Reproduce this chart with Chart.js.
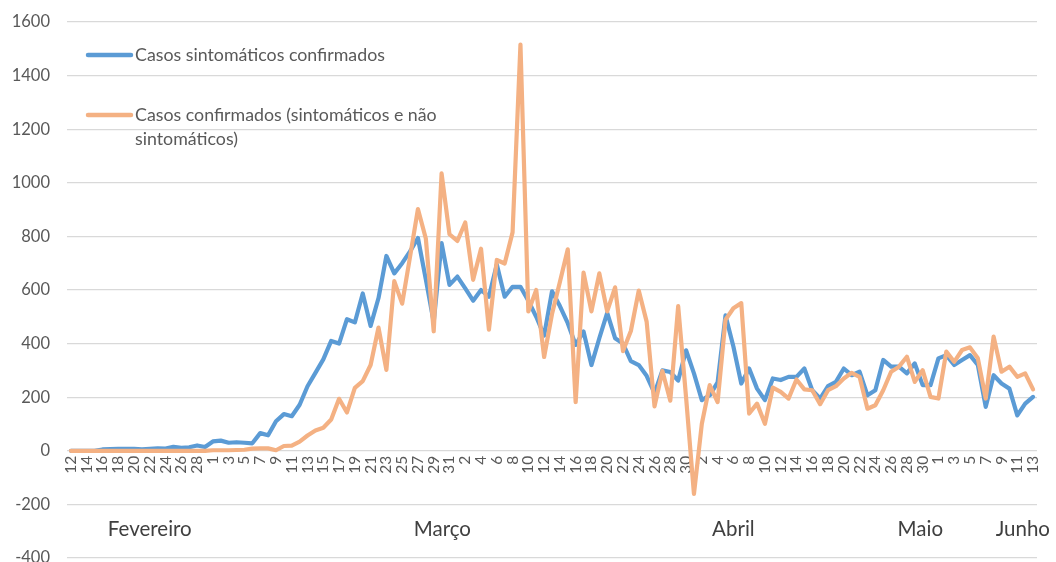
<!DOCTYPE html>
<html>
<head>
<meta charset="utf-8">
<script src="https://cdn.jsdelivr.net/npm/chart.js@4"></script>
<style>
  html, body { margin: 0; padding: 0; background: #ffffff; }
  #c { display: block; }
</style>
</head>
<body>
<canvas id="c" width="1056" height="562"></canvas>
<script>
// ---- categories: one per day, 12 Feb 2020 .. 13 Jun 2020 ----
const days = [
  12,13,14,15,16,17,18,19,20,21,22,23,24,25,26,27,28,29,
  1,2,3,4,5,6,7,8,9,10,11,12,13,14,15,16,17,18,19,20,21,22,23,24,25,26,27,28,29,30,31,
  1,2,3,4,5,6,7,8,9,10,11,12,13,14,15,16,17,18,19,20,21,22,23,24,25,26,27,28,29,30,
  1,2,3,4,5,6,7,8,9,10,11,12,13,14,15,16,17,18,19,20,21,22,23,24,25,26,27,28,29,30,31,
  1,2,3,4,5,6,7,8,9,10,11,12,13
];

// ---- month group labels and the category index they sit under ----
const monthNames = ['Fevereiro', 'Março', 'Abril', 'Maio', 'Junho'];
const monthLabelAt = [10, 47.1, 84, 107.7, 120.7];

// ---- value axis ticks ----
const yTicks = [-400, -200, 0, 200, 400, 600, 800, 1000, 1200, 1400, 1600];

// ---- series ----
const seriesNames = ['Casos sintomáticos confirmados', 'Casos confirmados (sintomáticos e não sintomáticos)'];
const legendLines = [['Casos sintomáticos confirmados'], ['Casos confirmados (sintomáticos e não', 'sintomáticos)']];

const sintomaticos = [
  0,0,0,0,5,6,7,7,7,5,
  7,9,8,15,11,13,20,14,35,38,
  30,32,30,28,66,58,110,137,129,172,
  241,291,341,410,400,491,479,587,466,570,
  727,662,700,744,794,640,480,775,619,650,
  606,560,600,575,695,575,612,612,560,500,
  430,595,540,476,395,445,320,420,515,420,
  400,335,320,280,215,300,294,262,375,289,
  189,207,255,505,389,251,307,232,189,270,
  264,276,276,307,226,195,241,257,307,282,
  295,207,226,339,314,314,289,326,245,245,
  345,357,320,339,357,320,164,282,251,232,
  132,176,201
];

const confirmados = [
  0,0,0,0,0,0,0,0,0,0,
  0,0,0,0,0,0,0,0,2,2,
  2,3,4,8,9,9,2,18,19,34,
  57,76,86,117,194,143,235,260,320,460,
  302,633,549,724,902,792,446,1035,808,783,
  852,638,754,452,712,699,815,1516,520,600,
  350,510,630,752,182,665,520,662,520,610,
  372,447,598,482,166,298,187,540,200,-161,
  101,245,182,489,532,551,139,176,101,236,
  220,195,266,229,226,174,226,241,270,291,
  276,157,170,226,295,314,351,257,301,201,
  195,370,332,376,386,345,195,426,295,314,
  276,289,229
];

const colors = ['#5B9BD5', '#F4B183'];
const textGray = '#595959';
const FONT = 'Lato';

const overlay = {
  id: 'overlay',
  afterDraw(chart) {
    const { ctx, chartArea, scales: { x, y } } = chart;
    ctx.save();
    // legend inside the plot, top-left
    const lx0 = chartArea.left + 21, lx1 = chartArea.left + 64, tx = chartArea.left + 68;
    const rows = [55, 115];
    ctx.font = '17.8px ' + FONT;
    ctx.textAlign = 'left';
    ctx.textBaseline = 'middle';
    legendLines.forEach((lines, i) => {
      ctx.strokeStyle = colors[i];
      ctx.lineWidth = 4.5;
      ctx.lineCap = 'round';
      ctx.beginPath();
      ctx.moveTo(lx0, rows[i]);
      ctx.lineTo(lx1, rows[i]);
      ctx.stroke();
      ctx.fillStyle = textGray;
      lines.forEach((t, j) => ctx.fillText(t, tx, rows[i] + j * 24));
    });
    // month group labels
    ctx.font = '20.5px ' + FONT;
    ctx.fillStyle = '#404040';
    ctx.textAlign = 'center';
    const my = y.getPixelForValue(0) + 79;
    monthNames.forEach((m, i) => ctx.fillText(m, x.getPixelForValue(monthLabelAt[i]), my));
    ctx.restore();
  }
};

new Chart(document.getElementById('c'), {
  type: 'line',
  data: {
    labels: days.map(String),
    datasets: [
      { label: seriesNames[0], data: sintomaticos, borderColor: colors[0], backgroundColor: colors[0], order: 1 },
      { label: seriesNames[1], data: confirmados, borderColor: colors[1], backgroundColor: colors[1], order: 0 }
    ]
  },
  options: {
    responsive: false,
    animation: false,
    devicePixelRatio: 1,
    layout: { padding: { top: 22, right: 19, bottom: 4, left: 0 } },
    elements: {
      line: { borderWidth: 4.2, tension: 0, borderJoinStyle: 'round', borderCapStyle: 'round' },
      point: { radius: 0, hoverRadius: 0 }
    },
    plugins: { legend: { display: false }, tooltip: { enabled: false } },
    scales: {
      x: {
        type: 'category',
        axis: 'x',
        offset: true,
        position: { y: 0 },
        grid: { display: false, drawTicks: false },
        border: { display: false },
        ticks: {
          autoSkip: false, minRotation: 90, maxRotation: 90, padding: 5,
          color: textGray, font: { family: FONT, size: 15.5 },
          callback: (v, i) => (i % 2 === 0 ? String(days[i]) : '')
        },
        afterFit(s) { s.paddingLeft = 0; s.paddingRight = 0; }
      },
      y: {
        min: -400, max: 1600,
        afterBuildTicks(s) { s.ticks = yTicks.map(v => ({ value: v })); },
        grid: { color: '#D9D9D9', lineWidth: 1.2, drawTicks: false },
        border: { display: false },
        ticks: {
          padding: 17, color: textGray, font: { family: FONT, size: 16.5 },
          callback: (v) => String(v)
        },
        afterFit(s) { s.width = 67; s.paddingTop = 0; s.paddingBottom = 0; }
      }
    }
  },
  plugins: [overlay]
});
</script>
</body>
</html>
